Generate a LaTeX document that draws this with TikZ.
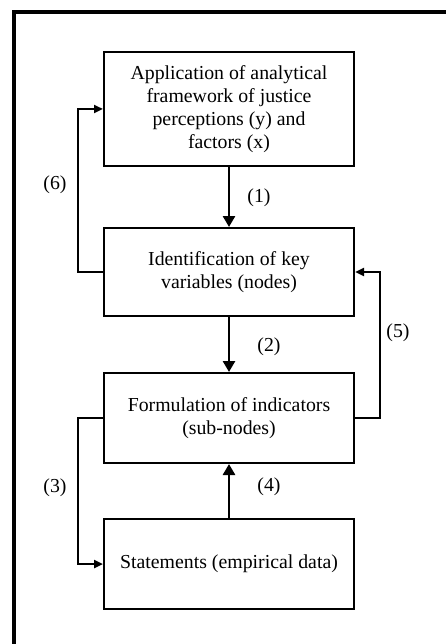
\documentclass[tikz,border=0pt]{standalone}
\usepackage{fontspec}
\setmainfont{Liberation Serif}
\usetikzlibrary{arrows.meta}
\begin{document}
\begin{tikzpicture}[x=1pt,y=-1pt,
  box/.style={draw,line width=2pt,minimum width=250pt,inner sep=0pt,align=center,font=\fontsize{19.8}{23}\selectfont},
  lbl/.style={font=\fontsize{19.8}{23}\selectfont,inner sep=0pt},
  varr/.style={line width=2.6pt,-{Triangle[length=11pt,width=12pt]}},
  harr/.style={line width=2.6pt,-{Triangle[length=9pt,width=8pt]}}]
\clip (0,0) rectangle (446,644);
\useasboundingbox (0,0) rectangle (446,644);
\draw[line width=3.2pt] (14,12) rectangle (470,670);
\node[box,minimum height=114pt] (b1) at (229,109) {Application of analytical\\framework of justice\\perceptions (y) and\\factors (x)};
\node[box,minimum height=88pt] (b2) at (229,272) {Identification of key\\variables (nodes)};
\node[box,minimum height=90pt] (b3) at (229,418) {Formulation of indicators\\(sub-nodes)};
\node[box,minimum height=90pt] (b4) at (229,564) {Statements (empirical data)};
\draw[varr] (b1.south) -- (b2.north);
\draw[varr] (b2.south) -- (b3.north);
\draw[varr] (b4.north) -- (b3.south);
\draw[harr] (b2.west) -- ++(-25,0) |- (b1.west);
\draw[harr] (b3.east) -- ++(25,0) |- (b2.east);
\draw[harr] (b3.west) -- ++(-25,0) |- (b4.west);
\node[lbl] (l1) at (259,198) {(1)};
\node[lbl] (l2) at (269,347) {(2)};
\node[lbl] (l3) at (55,488) {(3)};
\node[lbl] (l4) at (269,487) {(4)};
\node[lbl] (l5) at (398,333) {(5)};
\node[lbl] (l6) at (55,185) {(6)};
\end{tikzpicture}
\end{document}
